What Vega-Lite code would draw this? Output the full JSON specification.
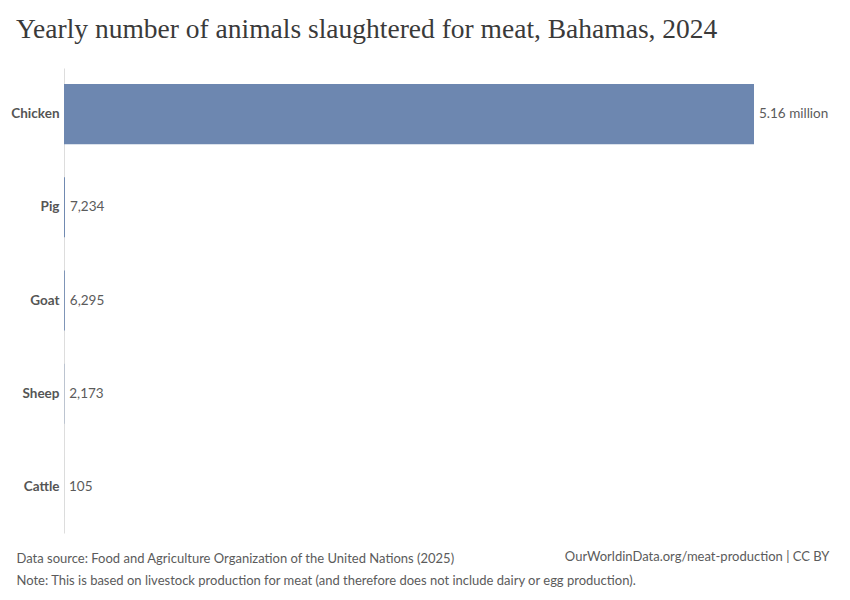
{
  "$schema": "https://vega.github.io/schema/vega-lite/v6.json",
  "autosize": {"type": "none"},
  "width": 690,
  "height": 465,
  "padding": {"left": 64, "top": 68, "right": 96, "bottom": 67},
  "background": "white",
  "title": {
    "text": "Yearly number of animals slaughtered for meat, Bahamas, 2024",
    "anchor": "start",
    "frame": "group",
    "dx": -48,
    "offset": 25,
    "font": "Liberation Serif",
    "fontSize": 27.5,
    "fontWeight": "normal",
    "color": "#3a3a3a"
  },
  "data": {
    "values": [
      {"animal": "Chicken", "value": 5160000, "label": "5.16 million"},
      {"animal": "Pig", "value": 7234, "label": "7,234"},
      {"animal": "Goat", "value": 6295, "label": "6,295"},
      {"animal": "Sheep", "value": 2173, "label": "2,173"},
      {"animal": "Cattle", "value": 105, "label": "105"}
    ]
  },
  "encoding": {
    "y": {
      "field": "animal",
      "type": "nominal",
      "sort": null,
      "scale": {"paddingInner": 0.355, "paddingOuter": 0.172},
      "axis": {
        "title": "OurWorldinData.org/meat-production | CC BY",
        "titleAngle": 0,
        "titleX": 765,
        "titleY": 492,
        "titleAlign": "right",
        "titleBaseline": "alphabetic",
        "titleFont": "Lato",
        "titleFontSize": 13,
        "titleFontWeight": "normal",
        "titleColor": "#5b5b5b",
        "labelFont": "Lato",
        "labelFontSize": 13.5,
        "labelFontWeight": "bold",
        "labelColor": "#555555",
        "labelPadding": 5,
        "ticks": false,
        "domainColor": "#dddddd",
        "domainWidth": 1
      }
    },
    "x": {
      "field": "value",
      "type": "quantitative",
      "scale": {"domain": [0, 5160000], "nice": false},
      "axis": {
        "labels": false,
        "ticks": false,
        "domain": false,
        "grid": false,
        "title": ["Data source: Food and Agriculture Organization of the United Nations (2025)", "Note: This is based on livestock production for meat (and therefore does not include dairy or egg production)."],
        "titleAnchor": "start",
        "titleAlign": "left",
        "titleX": -48,
        "titleY": 19,
        "titleBaseline": "top",
        "titleLineHeight": 22,
        "titleFont": "Lato",
        "titleFontSize": 13,
        "titleFontWeight": "normal",
        "titleColor": "#5b5b5b"
      }
    }
  },
  "layer": [
    {"mark": {"type": "bar", "color": "#6d87b0"}},
    {
      "mark": {"type": "text", "align": "left", "dx": 5, "font": "Lato", "fontSize": 13.5, "color": "#5b5b5b"},
      "encoding": {"text": {"field": "label"}}
    }
  ],
  "config": {"view": {"stroke": null}}
}
